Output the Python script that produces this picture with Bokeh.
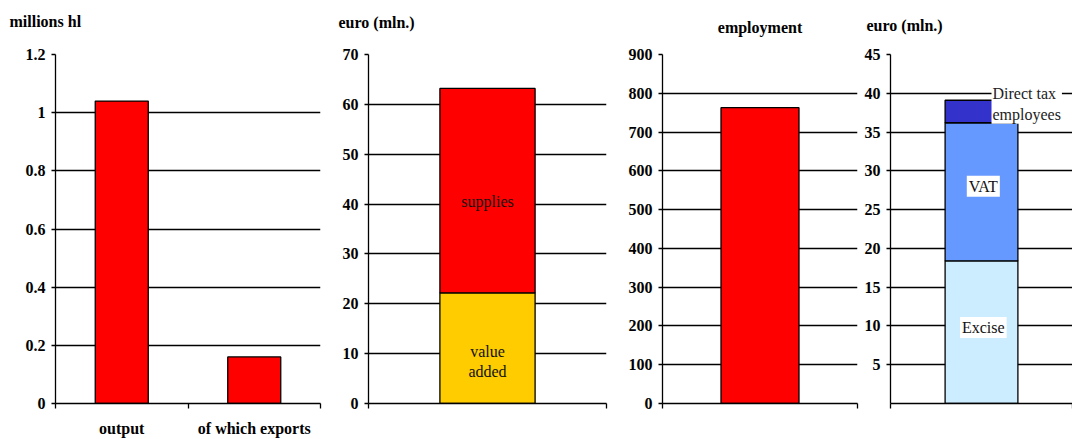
from bokeh.plotting import figure
from bokeh.layouts import row
from bokeh.models import Range1d, FixedTicker, Title, Label, NumeralTickFormatter
from bokeh.embed import file_html
from bokeh.resources import INLINE

# ---------------- data ----------------
output_cats = ["output", "of which exports"]
output_vals = [1.04, 0.16]            # millions hl
output_ticks = [0, 0.2, 0.4, 0.6, 0.8, 1.0, 1.2]

value_cats = ["value added", "supplies"]
value_vals = [22.2, 41.0]             # euro (mln.), stacked
value_ticks = [0, 10, 20, 30, 40, 50, 60, 70]

employment_vals = [763]
employment_ticks = [0, 100, 200, 300, 400, 500, 600, 700, 800, 900]

tax_cats = ["Excise", "VAT", "Direct tax\nemployees"]
tax_vals = [18.4, 17.8, 2.9]          # euro (mln.), stacked
tax_ticks = [5, 10, 15, 20, 25, 30, 35, 40, 45]
tax_colors = ["#CCECFF", "#6699FF", "#3333CC"]

titles = ["millions hl", "euro (mln.)", "employment", "euro (mln.)"]

# ---------------- style ----------------
H = 439
FONT = "Liberation Serif"
LW = 1.3


def make_fig(width, bl, br, x_end, y_end, y_ticks):
    p = figure(width=width, height=H, x_range=Range1d(0, x_end), y_range=Range1d(0, y_end),
               output_backend="svg", toolbar_location=None,
               min_border_left=bl, min_border_right=br, min_border_top=54, min_border_bottom=36)
    p.background_fill_color = "white"
    p.border_fill_color = "white"
    p.outline_line_color = None
    p.xgrid.visible = False
    p.ygrid.ticker = FixedTicker(ticks=y_ticks)
    p.ygrid.grid_line_color = "black"
    p.ygrid.grid_line_width = LW
    ya = p.yaxis[0]
    ya.ticker = FixedTicker(ticks=y_ticks)
    ya.axis_line_color = "black"
    ya.axis_line_width = LW
    ya.major_tick_out = 4
    ya.major_tick_in = 0
    ya.major_tick_line_width = LW
    ya.minor_tick_out = 0
    ya.minor_tick_in = 0
    ya.major_label_standoff = 6
    ya.major_label_text_font = FONT
    ya.major_label_text_font_style = "bold"
    ya.major_label_text_font_size = "16px"
    ya.major_label_text_color = "black"
    xa = p.xaxis[0]
    xa.axis_line_color = "black"
    xa.axis_line_width = LW
    xa.major_tick_out = 0
    xa.major_tick_in = 0
    xa.minor_tick_out = 5
    xa.minor_tick_in = 0
    xa.minor_tick_line_color = "black"
    xa.minor_tick_line_width = LW
    xa.major_label_text_font = FONT
    xa.major_label_text_font_style = "bold"
    xa.major_label_text_font_size = "16px"
    xa.major_label_text_color = "black"
    xa.major_label_standoff = 11
    return p


def add_title(p, text, align, offset, standoff, lift=False):
    # a trailing empty line lifts the title text further above the frame
    p.add_layout(Title(text=text + ("\n" if lift else ""), align=align, offset=offset,
                       standoff=standoff, vertical_align="top",
                       text_font=FONT, text_font_style="bold", text_font_size="16px",
                       text_color="black"), "above")


# ---- panel 1: output ----
p1 = make_fig(330, 55, 10, len(output_cats), 1.2, output_ticks)
p1.yaxis[0].formatter = NumeralTickFormatter(format="0.[0]")
xs1 = [i + 0.5 for i in range(len(output_cats))]
p1.xaxis[0].ticker = FixedTicker(ticks=xs1, minor_ticks=list(range(len(output_cats) + 1)))
p1.xaxis[0].major_label_overrides = {x: c for x, c in zip(xs1, output_cats)}
p1.vbar(x=xs1, top=output_vals, width=0.4, fill_color="#FF0000", line_color="black", line_width=LW)
add_title(p1, titles[0], "left", -46, 12, lift=True)

# ---- panel 2: value ----
p2 = make_fig(285, 38, 9, 1, 70, value_ticks)
p2.xaxis[0].ticker = FixedTicker(ticks=[], minor_ticks=[0, 1])
bottoms2 = [0, value_vals[0]]
tops2 = [value_vals[0], value_vals[0] + value_vals[1]]
p2.vbar(x=[0.5, 0.5], bottom=bottoms2, top=tops2, width=0.4,
        fill_color=["#FFCC00", "#FF0000"], line_color="black", line_width=LW)
p2.add_layout(Label(x=0.5, y=40.6, text="supplies", text_align="center", text_baseline="middle",
                    text_font=FONT, text_font_size="16px", text_color="#111111"))
p2.add_layout(Label(x=0.5, y=8.4, text="value\nadded", text_align="center", text_baseline="middle",
                    text_font=FONT, text_font_size="16px", text_color="#111111"))
add_title(p2, titles[1], "left", -30, 9, lift=True)

# ---- panel 3: employment ----
p3 = make_fig(245, 47, 3, 1, 900, employment_ticks)
p3.xaxis[0].ticker = FixedTicker(ticks=[], minor_ticks=[0, 1])
p3.vbar(x=[0.5], top=employment_vals, width=0.4, fill_color="#FF0000", line_color="black", line_width=LW)
add_title(p3, titles[2], "center", 3, 34)

# ---- panel 4: taxes ----
p4 = make_fig(212, 30, 0, 1, 45, tax_ticks)
p4.xaxis[0].ticker = FixedTicker(ticks=[], minor_ticks=[0, 1])
bott4, tops4 = [], []
acc = 0
for v in tax_vals:
    bott4.append(acc)
    acc += v
    tops4.append(acc)
p4.vbar(x=[0.5] * len(tax_vals), bottom=bott4, top=tops4, width=0.4,
        fill_color=tax_colors, line_color="black", line_width=LW)
p4.add_layout(Label(x=0.51, y=28.0, text=tax_cats[1], text_align="center", text_baseline="middle",
                    text_font=FONT, text_font_size="16px", text_color="#111111",
                    background_fill_color="white", padding=2))
p4.add_layout(Label(x=0.51, y=9.8, text=tax_cats[0], text_align="center", text_baseline="middle",
                    text_font=FONT, text_font_size="16px", text_color="#111111",
                    background_fill_color="white", padding=2))
p4.add_layout(Label(x=0.555, y=38.6, text=tax_cats[2], text_align="left", text_baseline="middle",
                    text_font=FONT, text_font_size="16px", text_color="#222222",
                    background_fill_color="white", padding=1))
add_title(p4, titles[3], "left", -24, 3, lift=True)

layout = row(p1, p2, p3, p4)
open("out.html", "w").write(file_html(layout, INLINE))
